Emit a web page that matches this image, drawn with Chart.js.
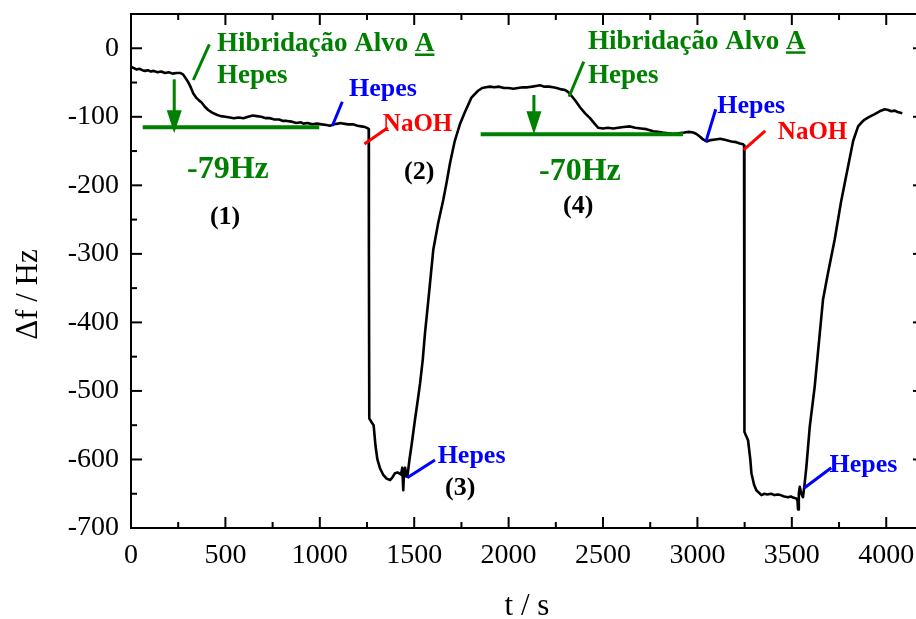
<!DOCTYPE html>
<html><head><meta charset="utf-8">
<script src="https://cdn.jsdelivr.net/npm/chart.js@4.4.1/dist/chart.umd.min.js"></script>
<style>html,body{margin:0;padding:0;background:#fff;overflow:hidden;width:916px;height:619px}canvas{display:block}</style>
</head><body>
<canvas id="c" width="930" height="619" style="width:930px;height:619px"></canvas>
<script>
// ---- data ----
const timeS = [0,15,30,45,60,75,90,105,120,140,160,180,200,220,240,260,275,288,300,315,330,345,360,374,390,409,430,454,475,500,524,545,570,595,620,645,666,690,715,736,760,785,805,825,850,875,900,913,935,960,984,1010,1035,1054,1075,1095,1110,1125,1150,1175,1200,1220,1240,1255,
 1259,1260,1262,1275,1285,1295,1305,1319,1335,1354,1372,1385,1398,1412,1425,1430,1437,1442,1446,1452,1458,1465,1475,1487,1504,1518,1531,1545,1557,1575,1601,1627,1654,1672,1690,1715,1743,1767,1803,1838,
 1860,1880,1901,1925,1950,1975,2000,2025,2050,2075,2100,2125,2145,2166,2190,2215,2235,2255,2280,2300,2316,2335,2355,2378,2405,2431,2455,2475,2500,2525,2554,2580,2610,2643,2670,2700,2730,2766,2790,2815,2845,2872,2900,2930,2955,2978,2995,3014,3030,3049,3070,3095,3120,3150,3180,3205,3225,3242,3247,
 3248,3250,3268,3280,3286,3300,3312,3339,3355,3370,3390,3409,3425,3440,3460,3480,3495,3510,3524,3530,3533,3537,3542,3550,3559,3568,3577,3595,3621,3648,3665,3690,3727,3760,3798,3825,3851,3870,3886,3910,3939,3965,3992,4010,4027,4045,4060,4085];
const deltaF = [-27,-29,-31,-30,-32,-33,-32,-34,-33,-35,-34,-36,-35,-37,-36,-36,-38,-43,-48,-56,-66,-72,-76,-79,-85,-90,-94,-97,-99,-100,-101,-102,-101,-102,-100,-98,-99,-100,-102,-102,-104,-104,-106,-106,-107,-109,-108,-110,-109,-111,-110,-111,-112,-113,-111,-110,-109,-110,-111,-111,-113,-114,-115,-117,
 -118,-300,-540,-546,-550,-580,-600,-613,-622,-628,-630,-626,-620,-619,-621,-622,-612,-645,-618,-612,-625,-622,-600,-577,-542,-515,-489,-455,-416,-367,-294,-255,-221,-195,-167,-135,-110,-94,-72,-62,
 -58,-57,-56,-57,-56,-58,-58,-59,-58,-57,-57,-56,-55,-54,-56,-56,-57,-58,-60,-61,-64,-70,-77,-86,-95,-102,-110,-116,-117,-116,-117,-116,-115,-114,-116,-117,-118,-121,-122,-123,-124,-125,-124,-123,-122,-123,-125,-129,-133,-136,-134,-133,-132,-134,-136,-137,-139,-140,-142,
 -300,-560,-572,-600,-620,-637,-645,-652,-650,-651,-650,-652,-651,-652,-654,-655,-654,-656,-657,-660,-673,-650,-640,-650,-655,-635,-611,-552,-494,-416,-367,-330,-279,-225,-172,-135,-114,-108,-104,-100,-96,-92,-89,-90,-92,-91,-93,-95];
const xTickValues = [0,500,1000,1500,2000,2500,3000,3500,4000];
const yTickValues = [0,-100,-200,-300,-400,-500,-600,-700];
const xTitle = 't / s';
const yTitle = '\u0394f / Hz';

// ---- annotations (data units) ----
const GREEN='#008000', BLUE='#0000ff', RED='#ff0000';
const annLines = [
 {c:GREEN,w:4,p:[[62,-115.3],[997,-115.3]]},
 {c:GREEN,w:3,p:[[415,5.8],[330,-46.3]]},
 {c:BLUE,w:3,p:[[1119,-78],[1066,-113.4]]},
 {c:RED,w:3,p:[[1360,-116],[1236,-139.7]]},
 {c:BLUE,w:3,p:[[1610,-600.8],[1463,-626.6]]},
 {c:GREEN,w:4,p:[[1852,-125.5],[2924,-125.5]]},
 {c:GREEN,w:3,p:[[2398,-19.6],[2320,-70.7]]},
 {c:BLUE,w:3,p:[[3097,-89],[3044,-137]]},
 {c:RED,w:3,p:[[3359,-120.7],[3245,-148.4]]},
 {c:BLUE,w:3,p:[[3709,-612],[3564,-642]]}
];
const annArrows = [
 {c:GREEN,t:229,from:-45.3,to:-124},
 {c:GREEN,t:2134,from:-68.2,to:-125.5}
];
const annTexts = [
 {s:'Hibridação Alvo ',u:'A',c:GREEN,f:'bold 27px',t:455,y:-4.7},
 {s:'Hepes',c:GREEN,f:'bold 27px',t:455,y:-50.7},
 {s:'-79Hz',c:GREEN,f:'bold 32px',t:297,y:-189.7},
 {s:'(1)',c:'#000',f:'bold 26px',t:418,y:-256.4},
 {s:'Hepes',c:BLUE,f:'bold 26px',t:1155,y:-69.6},
 {s:'NaOH',c:RED,f:'bold 25px',t:1334,y:-120.3},
 {s:'(2)',c:'#000',f:'bold 26px',t:1446,y:-190.7},
 {s:'Hepes',c:BLUE,f:'bold 26px',t:1624,y:-605.6},
 {s:'(3)',c:'#000',f:'bold 26px',t:1663,y:-651.8},
 {s:'Hibridação Alvo ',u:'A',c:GREEN,f:'bold 27px',t:2420,y:-1.5},
 {s:'Hepes',c:GREEN,f:'bold 27px',t:2420,y:-51.1},
 {s:'-70Hz',c:GREEN,f:'bold 32px',t:2161,y:-192.2},
 {s:'(4)',c:'#000',f:'bold 26px',t:2288,y:-240.4},
 {s:'Hepes',c:BLUE,f:'bold 26px',t:3105,y:-94.9},
 {s:'NaOH',c:RED,f:'bold 25px',t:3426,y:-132.8},
 {s:'Hepes',c:BLUE,f:'bold 26px',t:3700,y:-617.8}
];
const FAM = '"Liberation Serif","Times New Roman",serif';

const points = timeS.map((t,i)=>({x:t,y:deltaF[i]}));

const framePlugin = {
 id:'frame',
 afterDatasetsDraw(chart){
  const {ctx, chartArea:a, scales:{x,y}} = chart;
  const px = v=>x.getPixelForValue(v), py = v=>y.getPixelForValue(v);
  ctx.save();
  annLines.forEach(l=>{
   ctx.strokeStyle=l.c; ctx.lineWidth=l.w; ctx.lineCap='butt';
   ctx.beginPath(); ctx.moveTo(px(l.p[0][0]),py(l.p[0][1])); ctx.lineTo(px(l.p[1][0]),py(l.p[1][1])); ctx.stroke();
  });
  annArrows.forEach(a2=>{
   const X=px(a2.t), Y0=py(a2.from), Y1=py(a2.to);
   ctx.strokeStyle=a2.c; ctx.fillStyle=a2.c; ctx.lineWidth=3;
   ctx.beginPath(); ctx.moveTo(X,Y0); ctx.lineTo(X,Y1-18); ctx.stroke();
   ctx.beginPath(); ctx.moveTo(X-7.5,Y1-23); ctx.lineTo(X+7.5,Y1-23); ctx.lineTo(X,Y1); ctx.closePath(); ctx.fill();
  });
  annTexts.forEach(tx=>{
   ctx.font = tx.f+' '+FAM; ctx.fillStyle=tx.c; ctx.textAlign='left'; ctx.textBaseline='alphabetic';
   const X=px(tx.t), Y=py(tx.y);
   ctx.fillText(tx.s,X,Y);
   if(tx.u){
    const w0=ctx.measureText(tx.s).width, w1=ctx.measureText(tx.u).width;
    ctx.fillText(tx.u,X+w0,Y);
    ctx.fillRect(X+w0,Y+2,w1,2.5);
   }
  });
  ctx.strokeStyle='#000'; ctx.lineWidth=2; ctx.lineCap='square';
  ctx.strokeRect(a.left,a.top,a.right-a.left,a.bottom-a.top);
  ctx.lineCap='butt';
  const ln=(x1,y1,x2,y2)=>{ctx.beginPath();ctx.moveTo(x1,y1);ctx.lineTo(x2,y2);ctx.stroke();};
  for(let v=x.min; v<=x.max; v+=250){const X=px(v), L=(v%500===0)?11:6; ln(X,a.bottom,X,a.bottom-L); ln(X,a.top,X,a.top+L);}
  for(let v=-700; v<=y.max; v+=50){const Y=py(v), L=(v%100===0)?11:6; ln(a.left,Y,a.left+L,Y); ln(a.right,Y,a.right-L,Y);}
  ctx.fillStyle='#000'; ctx.font='31px '+FAM; ctx.textAlign='center'; ctx.textBaseline='alphabetic';
  ctx.fillText(xTitle,527,615);
  ctx.translate(37,294.5); ctx.rotate(-Math.PI/2); ctx.fillText(yTitle,0,0);
  ctx.restore();
 }
};

new Chart(document.getElementById('c'),{
 type:'line',
 data:{datasets:[{data:points,borderColor:'#000',borderWidth:2.6,pointRadius:0,tension:0,fill:false,borderJoinStyle:'round'}]},
 options:{
  responsive:false, animation:false, devicePixelRatio:1,
  layout:{padding:{top:14,right:6,left:0,bottom:0}},
  plugins:{legend:{display:false},tooltip:{enabled:false}},
  scales:{
   x:{type:'linear',min:0,max:4200,
      grid:{display:false,drawTicks:false}, border:{display:false},
      afterBuildTicks:s=>{s.ticks=xTickValues.map(v=>({value:v}));},
      afterFit:s=>{s.height=91;s.paddingLeft=0;s.paddingRight=0;s.paddingTop=0;s.paddingBottom=0;},
      ticks:{color:'#000',font:{family:FAM,size:28},padding:11,maxRotation:0,autoSkip:false,callback:v=>String(v)}},
   y:{type:'linear',min:-700,max:50,
      grid:{display:false,drawTicks:false}, border:{display:false},
      afterBuildTicks:s=>{s.ticks=yTickValues.map(v=>({value:v}));},
      afterFit:s=>{s.width=131;s.paddingLeft=0;s.paddingRight=0;s.paddingTop=0;s.paddingBottom=0;},
      ticks:{color:'#000',font:{family:FAM,size:28},padding:12,autoSkip:false,callback:v=>String(v)}}
  }
 },
 plugins:[framePlugin]
});
</script>
</body></html>
